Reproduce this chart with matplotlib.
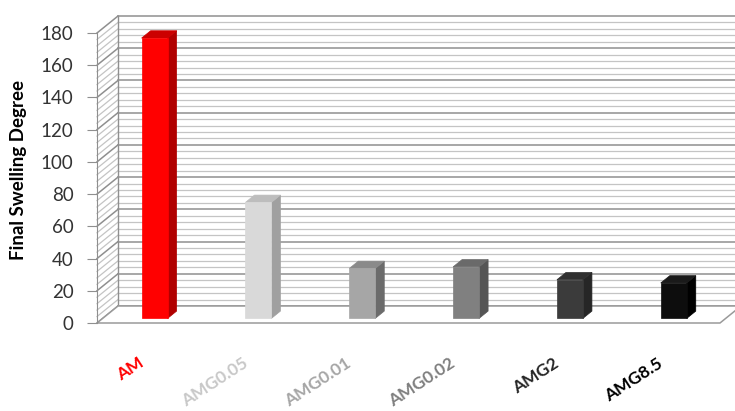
import matplotlib
matplotlib.use("Agg")
import matplotlib.pyplot as plt
from matplotlib.patches import Polygon

categories = ["AM", "AMG0.05", "AMG0.01", "AMG0.02", "AMG2", "AMG8.5"]
values = [174, 72, 31, 32, 24, 22]
label_colors = ["#ff0000", "#c8c8c8", "#a6a6a6", "#7f7f7f", "#262626", "#000000"]
front_colors = ["#ff0000", "#d9d9d9", "#a6a6a6", "#808080", "#3b3b3b", "#0d0d0d"]
side_colors = ["#b00000", "#a0a0a0", "#6b6b6b", "#555555", "#262626", "#000000"]
top_colors = ["#cc0000", "#bdbdbd", "#8a8a8a", "#6a6a6a", "#303030", "#1a1a1a"]
yticks = list(range(0, 181, 20))

plt.rcParams['font.family'] = ['Lato', 'DejaVu Sans']

W, H = 735, 411
fig = plt.figure(figsize=(W / 100, H / 100), dpi=100)
ax = fig.add_axes([97 / W, (H - 323) / H, 623 / W, 290 / H])
n = len(categories)
ax.set_xlim(0, n)
ax.set_ylim(0, 180)

pxx = 623 / n
pxy = 290 / 180
DX = 21 / pxx
DY = 17 / pxy

grid_minor = "#c4c4c4"
grid_major = "#8f8f8f"

# back wall gridlines + side wall diagonals
for v in range(0, 181, 4):
    major = (v % 20 == 0)
    c = grid_major if major else grid_minor
    lw = 1.1 if major else 0.9
    ax.plot([DX, n + DX + 1], [v + DY, v + DY], color=c, lw=lw, clip_on=False, zorder=1)
    ax.plot([0, DX], [v, v + DY], color=c, lw=lw, clip_on=False, zorder=1)
ax.plot([DX, DX], [DY, 180 + DY], color=grid_major, lw=1, clip_on=False, zorder=1)
# floor
floor = Polygon([(0, 0), (n, 0), (n + DX, DY), (DX, DY)], closed=True,
                facecolor="white", edgecolor="#9a9a9a", lw=1.1, clip_on=False, zorder=2)
ax.add_patch(floor)

# bars
d0, d1 = 0.27, 0.70
hw = 0.125
for i, (v, fc, sc, tc) in enumerate(zip(values, front_colors, side_colors, top_colors)):
    cx = i + 0.5
    xl, xr = cx - hw + d0 * DX, cx + hw + d0 * DX
    yb = d0 * DY
    yt = v + d0 * DY
    ddx = (d1 - d0) * DX
    ddy = (d1 - d0) * DY
    ax.add_patch(Polygon([(xr, yb), (xr + ddx, yb + ddy), (xr + ddx, yt + ddy), (xr, yt)],
                         closed=True, facecolor=sc, edgecolor=sc, lw=0.5, clip_on=False, zorder=4))
    ax.add_patch(Polygon([(xl, yt), (xr, yt), (xr + ddx, yt + ddy), (xl + ddx, yt + ddy)],
                         closed=True, facecolor=tc, edgecolor=tc, lw=0.5, clip_on=False, zorder=4))
    ax.add_patch(Polygon([(xl, yb), (xr, yb), (xr, yt), (xl, yt)],
                         closed=True, facecolor=fc, edgecolor=fc, lw=0.5, clip_on=False, zorder=5))

for s in ["top", "right", "bottom"]:
    ax.spines[s].set_visible(False)
ax.spines["left"].set_color("#8f8f8f")
ax.spines["left"].set_zorder(3)
ax.set_yticks(yticks)
ax.set_yticklabels([str(t) for t in yticks], fontsize=13.5, color="#333333")
ax.tick_params(axis="y", direction="out", length=7, color="#8f8f8f", pad=10)
ax.set_xticks([])

for i, (cat, c) in enumerate(zip(categories, label_colors)):
    ax.annotate(cat, xy=(i + 0.5, 0), xytext=(-11, -32), textcoords="offset pixels",
                rotation=33, ha="right", va="top", rotation_mode="anchor",
                fontsize=12.5, fontweight="bold", color=c, annotation_clip=False)
ax.patch.set_alpha(0)

fig.text(19 / W, 1 - 170 / H, "Final Swelling Degree", rotation=90, ha="center", va="center",
         fontsize=13.5, fontweight="bold", color="#000000")

fig.savefig("out.png", dpi=100)
